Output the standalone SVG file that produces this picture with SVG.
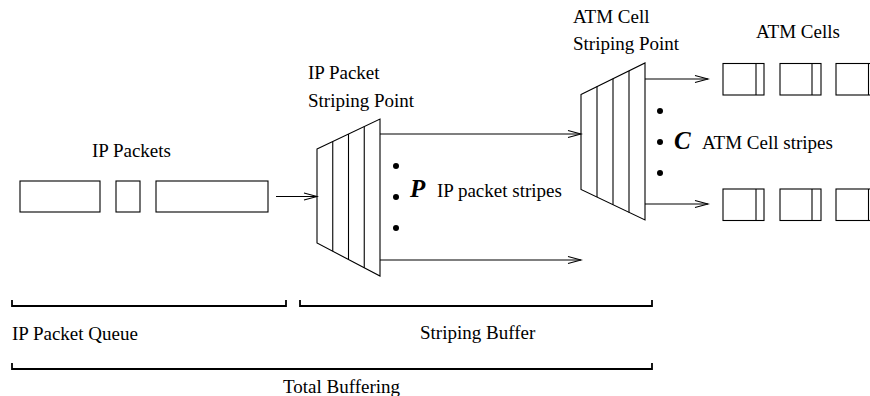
<svg xmlns="http://www.w3.org/2000/svg" width="870" height="396" viewBox="0 0 870 396">
  <style>
    .ln { fill: none; stroke: #000; stroke-width: 1.1; }
    .box { fill: #fff; stroke: #000; stroke-width: 1.1; }
    .br { fill: none; stroke: #000; stroke-width: 1.8; }
    .t { font-family: "Liberation Serif", "Times New Roman", serif; font-size: 19px; fill: #000; }
    .v { font-family: "Liberation Serif", "Times New Roman", serif; font-size: 25px; font-weight: bold; font-style: italic; fill: #000; }
    .dot { fill: #000; }
  </style>
  <defs>
    <marker id="open" markerUnits="userSpaceOnUse" markerWidth="16" markerHeight="10" refX="14" refY="5" orient="auto">
      <path d="M1,1.5 L14,5 L1,8.5" fill="none" stroke="#000" stroke-width="1.1"/>
    </marker>
  </defs>

  <rect width="870" height="396" fill="#fff"/>

  <!-- incoming IP packets -->
  <g id="ip-packets">
    <rect class="box" x="20" y="181" width="80" height="31"/>
    <rect class="box" x="116" y="181" width="24" height="31"/>
    <rect class="box" x="156" y="181" width="112" height="31"/>
    <text class="t" x="92" y="157">IP Packets</text>
  </g>

  <!-- IP packet striping point -->
  <g id="ip-striper">
    <polygon class="box" points="317,149 380,119 380,276 317,243"/>
    <line class="ln" x1="332.75" y1="141.5" x2="332.75" y2="251.25"/>
    <line class="ln" x1="348.5" y1="134" x2="348.5" y2="259.5"/>
    <line class="ln" x1="364.25" y1="126.5" x2="364.25" y2="267.75"/>
    <text class="t" x="308" y="79">IP Packet</text>
    <text class="t" x="308" y="107">Striping Point</text>
  </g>

  <!-- IP packet stripes label -->
  <g id="ip-stripes">
    <circle class="dot" cx="396" cy="166" r="3"/>
    <circle class="dot" cx="396" cy="197" r="3"/>
    <circle class="dot" cx="396" cy="228" r="3"/>
    <text class="v" x="410" y="197">P</text>
    <text class="t" x="437" y="197">IP packet stripes</text>
  </g>

  <!-- ATM cell striping point -->
  <g id="atm-striper">
    <polygon class="box" points="581,94.5 645,63 645,220 581,189.5"/>
    <line class="ln" x1="597" y1="86.6" x2="597" y2="197.1"/>
    <line class="ln" x1="613" y1="78.75" x2="613" y2="204.75"/>
    <line class="ln" x1="629" y1="70.9" x2="629" y2="212.4"/>
    <text class="t" x="573" y="23">ATM Cell</text>
    <text class="t" x="573" y="50">Striping Point</text>
  </g>

  <!-- ATM cell stripes label -->
  <g id="atm-stripes">
    <circle class="dot" cx="660" cy="111" r="3"/>
    <circle class="dot" cx="660" cy="142" r="3"/>
    <circle class="dot" cx="660" cy="173" r="3"/>
    <text class="v" x="674" y="149">C</text>
    <text class="t" x="702" y="149">ATM Cell stripes</text>
  </g>

  <!-- ATM cells, two stripes -->
  <g id="atm-cells">
    <text class="t" x="756" y="38">ATM Cells</text>
    <g id="cells-top">
      <rect class="box" x="723" y="63.5" width="41" height="31.5"/>
      <line class="ln" x1="756" y1="63.5" x2="756" y2="95"/>
      <rect class="box" x="780" y="63.5" width="41" height="31.5"/>
      <line class="ln" x1="812" y1="63.5" x2="812" y2="95"/>
      <rect class="box" x="836" y="63.5" width="41" height="31.5"/>
      <line class="ln" x1="868.5" y1="63.5" x2="868.5" y2="95"/>
    </g>
    <g id="cells-bottom">
      <rect class="box" x="723" y="189" width="41" height="31.5"/>
      <line class="ln" x1="756" y1="189" x2="756" y2="220.5"/>
      <rect class="box" x="780" y="189" width="41" height="31.5"/>
      <line class="ln" x1="812" y1="189" x2="812" y2="220.5"/>
      <rect class="box" x="836" y="189" width="41" height="31.5"/>
      <line class="ln" x1="868.5" y1="189" x2="868.5" y2="220.5"/>
    </g>
  </g>

  <!-- connectors -->
  <g id="connectors">
    <line class="ln" x1="276" y1="196.5" x2="317" y2="196.5" marker-end="url(#open)"/>
    <line class="ln" x1="380" y1="134" x2="581" y2="134" marker-end="url(#open)"/>
    <line class="ln" x1="380" y1="260" x2="581" y2="260" marker-end="url(#open)"/>
    <line class="ln" x1="645" y1="79" x2="708" y2="79" marker-end="url(#open)"/>
    <line class="ln" x1="645" y1="204" x2="708" y2="204" marker-end="url(#open)"/>
  </g>

  <!-- buffering brackets -->
  <g id="queue-bracket">
    <path class="br" d="M12,300 V306 H286 V300"/>
    <text class="t" x="12" y="340">IP Packet Queue</text>
  </g>
  <g id="buffer-bracket">
    <path class="br" d="M300,300 V306 H652 V300"/>
    <text class="t" x="420" y="339">Striping Buffer</text>
  </g>
  <g id="total-bracket">
    <path class="br" d="M12,363 V369 H652 V363"/>
    <text class="t" x="283" y="393">Total Buffering</text>
  </g>
</svg>
